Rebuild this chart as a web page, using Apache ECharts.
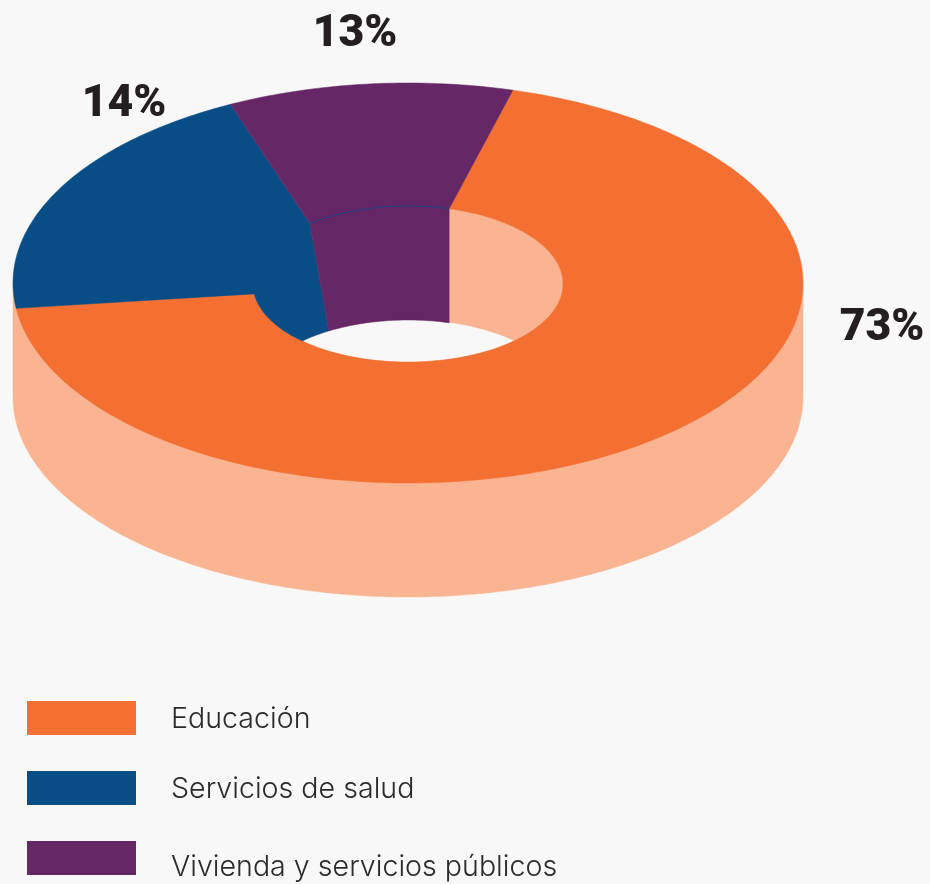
<!DOCTYPE html>
<html>
<head>
<meta charset="utf-8">
<style>
  html, body { margin: 0; padding: 0; background: #f8f8f8; }
  #main { width: 930px; height: 884px; }
</style>
<script src="https://cdn.jsdelivr.net/npm/echarts@6/dist/echarts.min.js"></script>
</head>
<body>
<div id="main"></div>
<script>
const categories = ['Educación', 'Servicios de salud', 'Vivienda y servicios públicos'];
const percents = [73, 14, 13];
// the picture does not draw its slices to scale, so the sweep is read off the drawing (% of the ring)
const drawnShares = [68.7, 19.6, 11.7];
const colors = ['#f37032', '#084d85', '#662766'];
const wallColor = '#fab492';
const labelSpots = [[882, 329], [124, 105], [355, 35]];

const startAngle = 74.6;
const outer = { cx: 408, cy: 283, rx: 395, ry: 200 };
const inner = { cx: 408, cy: 284, rx: 155, ry: 78 };
const depth = 114;
const leanTop = 12.5;   // the blue/purple edge is not radial in the source
const leanFloor = 4;

function arc(api, e, from, to, dy) {
  const pts = [];
  const steps = Math.max(1, Math.ceil(Math.abs(to - from)));
  for (let i = 0; i <= steps; i++) {
    const t = (from + (to - from) * i / steps) * Math.PI / 180;
    pts.push(api.coord([e.cx + e.rx * Math.cos(t), e.cy + (dy || 0) - e.ry * Math.sin(t)]));
  }
  return pts;
}

function poly(points, color) {
  return {
    type: 'polygon',
    shape: { points },
    style: { fill: color, stroke: color, lineWidth: 0.5 }
  };
}

function sliceEdges(idx) {
  let from = startAngle;
  for (let i = 0; i < idx; i++) from -= drawnShares[i] * 3.6;
  return [from, from - drawnShares[idx] * 3.6];
}

function renderSlice(params, api) {
  const idx = params.seriesIndex;
  const edges = sliceEdges(idx);
  const children = [];
  const hit = Math.asin(depth / 2 / inner.ry) * 180 / Math.PI;
  const seam = sliceEdges(2)[0];

  if (idx === 0) {
    // side of the ring, hole wall and the see-through floor go under everything
    children.push(poly(
      [api.coord([outer.cx - outer.rx, outer.cy])]
        .concat(arc(api, outer, 180, 360, depth))
        .concat([api.coord([outer.cx + outer.rx, outer.cy])]),
      wallColor
    ));
    children.push(poly(arc(api, inner, 0, 360), wallColor));
    children.push(poly(
      arc(api, inner, 180 + hit, 360 - hit).concat(arc(api, inner, hit, 180 - hit, depth)),
      '#f8f8f8'
    ));
    children.push(poly(
      arc(api, outer, edges[0], edges[1]).concat(arc(api, inner, edges[1], edges[0])),
      colors[0]
    ));
  }
  if (idx === 1) {
    // top face and hole wall as one shape so no seam shows
    children.push(poly(
      arc(api, outer, edges[0], edges[1])
        .concat(arc(api, inner, seam + leanTop, seam + leanTop))
        .concat(arc(api, inner, seam + leanFloor, -180 - hit, depth))
        .concat(arc(api, inner, -180 + hit, edges[0])),
      colors[1]
    ));
  }
  if (idx === 2) {
    children.push(poly(
      arc(api, outer, edges[0], edges[1])
        .concat(arc(api, inner, edges[1], edges[1]))
        .concat(arc(api, inner, edges[1], seam + leanFloor, depth))
        .concat(arc(api, inner, seam + leanTop, seam + leanTop)),
      colors[2]
    ));
    children.push({
      type: 'polyline',
      shape: { points: arc(api, inner, seam + leanTop, edges[1]) },
      style: { fill: null, stroke: colors[1], lineWidth: 0.8 }
    });
  }

  const spot = api.coord(labelSpots[idx]);
  children.push({
    type: 'text',
    x: spot[0],
    y: spot[1],
    style: {
      text: percents[idx] + '%',
      fill: '#231f20',
      font: '900 44.5px Roboto',
      align: 'center',
      verticalAlign: 'middle'
    }
  });

  return { type: 'group', children };
}

const myChart = echarts.init(document.getElementById('main'));

myChart.setOption({
  backgroundColor: '#f8f8f8',
  animation: false,
  tooltip: { show: false },
  grid: { left: 0, right: 0, top: 0, bottom: 0 },
  xAxis: { type: 'value', min: 0, max: 930, show: false },
  yAxis: { type: 'value', min: 0, max: 884, inverse: true, show: false },
  legend: {
    orient: 'vertical',
    left: 27,
    top: 701,
    padding: 0,
    itemWidth: 109,
    itemHeight: 34,
    itemGap: 36,
    icon: 'rect',
    selectedMode: false,
    formatter: name => name === categories[2] ? '{low|' + name + '}' : name,
    textStyle: {
      fontFamily: 'Inter',
      fontWeight: 300,
      fontSize: 28.6,
      color: '#2b2b2b',
      padding: [2, 0, 0, 30],
      rich: {
        low: {
          fontFamily: 'Inter',
          fontWeight: 300,
          fontSize: 28.6,
          color: '#2b2b2b',
          padding: [16, 0, 0, 0]
        }
      }
    },
    data: categories
  },
  series: categories.map((name, i) => ({
    name,
    type: 'custom',
    coordinateSystem: 'cartesian2d',
    clip: false,
    silent: true,
    itemStyle: { color: colors[i] },
    renderItem: renderSlice,
    data: [[drawnShares[i], percents[i]]]
  }))
});
</script>
</body>
</html>
